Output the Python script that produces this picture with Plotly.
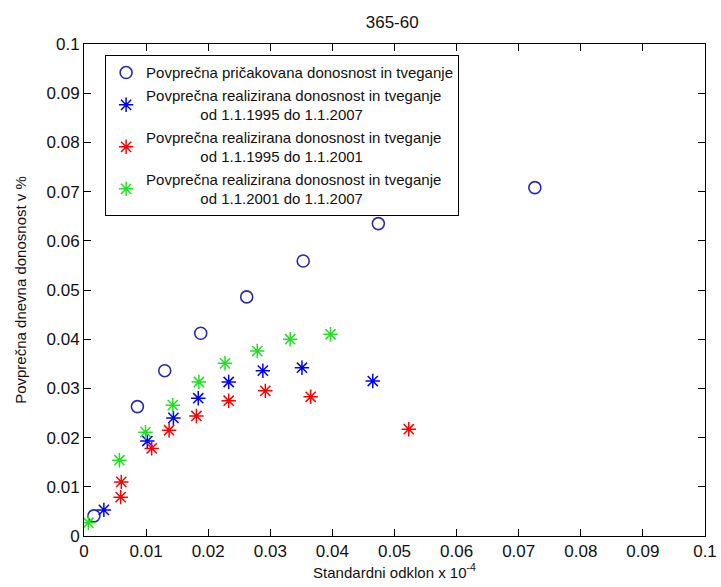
import plotly.graph_objects as go

title = "365-60"
x_title = "Standardni odklon x 10<sup>-4</sup>"
y_title = "Povprečna dnevna donosnost v %"

tick_vals = [0, 0.01, 0.02, 0.03, 0.04, 0.05, 0.06, 0.07, 0.08, 0.09, 0.1]
tick_text = ["0", "0.01", "0.02", "0.03", "0.04", "0.05", "0.06", "0.07", "0.08", "0.09", "0.1"]

exp_x = [0.0016, 0.0086, 0.0130, 0.0188, 0.0262, 0.0353, 0.0474, 0.0726]
exp_y = [0.0041, 0.0263, 0.0336, 0.0412, 0.0486, 0.0559, 0.0635, 0.0708]

all_x = [0.0032, 0.0102, 0.0144, 0.0184, 0.0233, 0.0288, 0.0351, 0.0465]
all_y = [0.0053, 0.0193, 0.0240, 0.0280, 0.0313, 0.0336, 0.0342, 0.0315]

early_x = [0.0059, 0.0060, 0.0109, 0.0137, 0.0181, 0.0233, 0.0292, 0.0365, 0.0523]
early_y = [0.0079, 0.0110, 0.0178, 0.0215, 0.0244, 0.0275, 0.0295, 0.0283, 0.0217]

late_x = [0.0007, 0.0057, 0.0099, 0.0143, 0.0185, 0.0227, 0.0279, 0.0332, 0.0397]
late_y = [0.0027, 0.0154, 0.0211, 0.0266, 0.0313, 0.0351, 0.0376, 0.0400, 0.0410]

pad = "\u00a0" * 13
names = [
    "Povprečna pričakovana donosnost in tveganje",
    "Povprečna realizirana donosnost in tveganje<br>" + pad + "od 1.1.1995 do 1.1.2007",
    "Povprečna realizirana donosnost in tveganje<br>" + pad + "od 1.1.1995 do 1.1.2001",
    "Povprečna realizirana donosnost in tveganje<br>" + pad + "od 1.1.2001 do 1.1.2007",
]

FONT = "Arial, Liberation Sans, sans-serif"

fig = go.Figure()
fig.add_trace(go.Scatter(x=exp_x, y=exp_y, mode="markers", name=names[0],
                         marker=dict(symbol="circle-open", size=12, color="#2a2ab0",
                                     line=dict(width=1.6, color="#2a2ab0"))))
fig.add_trace(go.Scatter(x=all_x, y=all_y, mode="markers", name=names[1],
                         marker=dict(symbol="asterisk-open", size=12, color="#0000ff",
                                     line=dict(width=1.5, color="#0000ff"))))
fig.add_trace(go.Scatter(x=early_x, y=early_y, mode="markers", name=names[2],
                         marker=dict(symbol="asterisk-open", size=12, color="#ff0000",
                                     line=dict(width=1.5, color="#ff0000"))))
fig.add_trace(go.Scatter(x=late_x, y=late_y, mode="markers", name=names[3],
                         marker=dict(symbol="asterisk-open", size=12, color="#22e022",
                                     line=dict(width=1.5, color="#22e022"))))

axis_common = dict(
    range=[0, 0.1], tickvals=tick_vals, ticktext=tick_text,
    showgrid=False, zeroline=False, showline=True, linecolor="black", linewidth=1,
    mirror="ticks", ticks="inside", ticklen=7, tickcolor="black", automargin=False,
    tickfont=dict(family=FONT, size=17, color="#111111"),
)

fig.update_layout(
    width=721, height=587,
    margin=dict(l=84, r=16, t=44, b=51),
    paper_bgcolor="white", plot_bgcolor="white",
    title=dict(text=title, x=0.544, xanchor="center", y=0.9625, yanchor="middle",
               font=dict(family=FONT, size=17, color="#111111")),
    xaxis=dict(**axis_common, title=dict(text=x_title, standoff=4,
               font=dict(family=FONT, size=15, color="#111111"))),
    yaxis=dict(**axis_common, title=dict(text=y_title, standoff=16,
               font=dict(family=FONT, size=15, color="#111111"))),
    legend=dict(x=0.034, y=0.977, xanchor="left", yanchor="top",
                bgcolor="white", bordercolor="black", borderwidth=1,
                font=dict(family=FONT, size=15, color="#111111"),
                tracegroupgap=0, itemwidth=30),
    showlegend=True,
)

fig.write_html("out.html")
